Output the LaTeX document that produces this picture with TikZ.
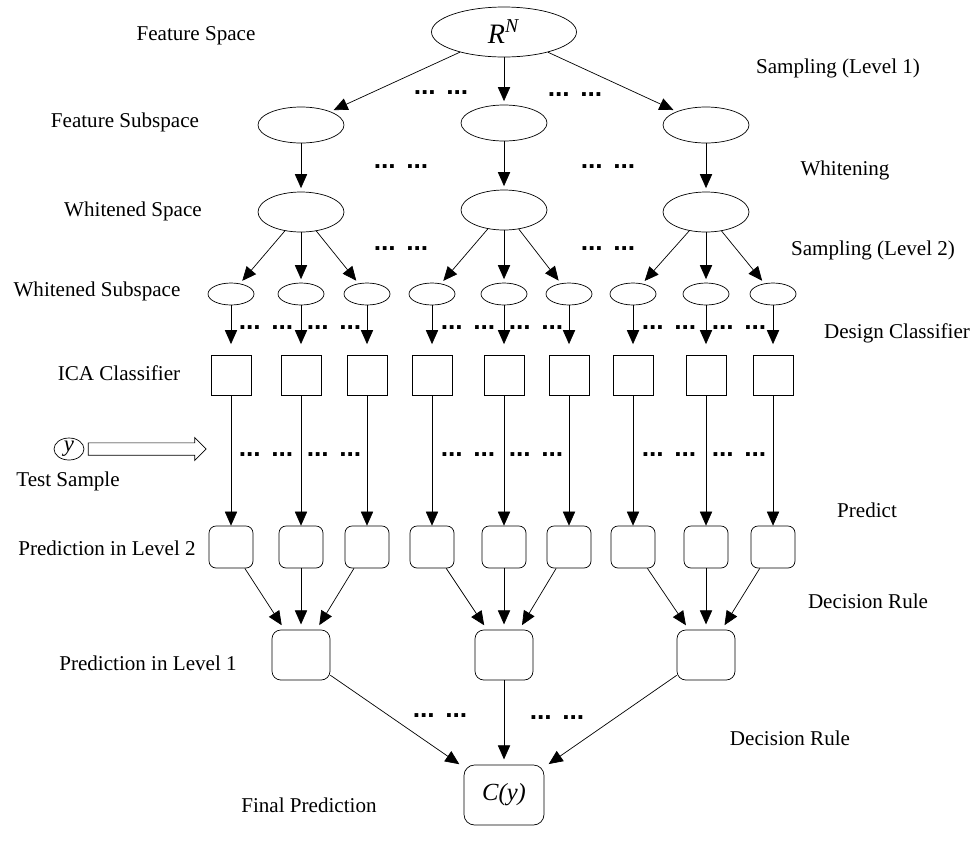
\documentclass[tikz,border=0pt]{standalone}
\usepackage{fontspec}
\setmainfont{Liberation Serif}
\newfontfamily\dotfont{Liberation Sans}
\usetikzlibrary{arrows.meta,shapes.geometric,shapes.arrows}

\begin{document}
\begin{tikzpicture}[x=0.02cm,y=-0.02cm,
		>={Triangle[length=8pt,width=7pt]},
		every node/.style={font=\fontsize{12}{14}\selectfont},
		ell/.style={draw,shape=ellipse,inner sep=0pt},
		sq/.style={draw,shape=rectangle,minimum width=0.8cm,minimum height=0.8cm},
		pred/.style={draw,shape=rectangle,rounded corners=4pt,minimum width=0.88cm,minimum height=0.84cm},
		dots/.style={font=\fontsize{15}{15}\selectfont\dotfont\bfseries,anchor=base,inner sep=0pt}]
		
		\useasboundingbox (0,0) rectangle (972,842);
		
		% spaces
		\node[ell,minimum width=2.9cm,minimum height=1cm,font=\fontsize{16}{16}\selectfont] (rn) at (504,32) {\textit{R}\textsuperscript{\textit{N}}};
		\node[ell,minimum width=1.72cm,minimum height=0.72cm] (fs1) at (301,125) {};
		\node[ell,minimum width=1.72cm,minimum height=0.72cm] (fs2) at (504,123) {};
		\node[ell,minimum width=1.72cm,minimum height=0.72cm] (fs3) at (706,125) {};
		\node[ell,minimum width=1.72cm,minimum height=0.8cm] (ws1) at (301,212) {};
		\node[ell,minimum width=1.72cm,minimum height=0.8cm] (ws2) at (504,210) {};
		\node[ell,minimum width=1.72cm,minimum height=0.8cm] (ws3) at (706,212) {};
		
		% columns: subspace, classifier, prediction
		\foreach \x [count=\i] in {231,301,367,432,504,569,633,706,773} {
			\node[ell,minimum width=0.92cm,minimum height=0.44cm] (sub\i) at (\x,294) {};
			\node[sq] (ica\i) at (\x,375) {};
			\node[pred] (pa\i) at (\x,547) {};
			\draw[->,shorten >=6pt] (sub\i) -- (ica\i);
			\draw[->] (ica\i) -- (pa\i);
		}
		
		\node[draw,shape=rectangle,rounded corners=5pt,minimum width=1.16cm,minimum height=1cm] (pb1) at (301,655) {};
		\node[draw,shape=rectangle,rounded corners=5pt,minimum width=1.16cm,minimum height=1cm] (pb2) at (504,655) {};
		\node[draw,shape=rectangle,rounded corners=5pt,minimum width=1.16cm,minimum height=1cm] (pb3) at (706,655) {};
		\node[draw,shape=rectangle,rounded corners=6pt,minimum width=1.6cm,minimum height=1.2cm,font=\fontsize{14}{14}\selectfont] (fin) at (504,795) {\textit{C(y)}};
		
		% arrows
		\draw[->,shorten >=2pt] (rn) -- (fs1);
		\draw[->,shorten >=2pt] (rn) -- (fs2);
		\draw[->,shorten >=2pt] (rn) -- (fs3);
		\foreach \j in {1,2,3} {
			\draw[->,shorten >=2pt] (fs\j) -- (ws\j);
		}
		\draw[->,shorten >=2pt] (ws1) -- (sub1);
		\draw[->,shorten >=2pt] (ws1) -- (sub2);
		\draw[->,shorten >=2pt] (ws1) -- (sub3);
		\draw[->,shorten >=2pt] (ws2) -- (sub4);
		\draw[->,shorten >=2pt] (ws2) -- (sub5);
		\draw[->,shorten >=2pt] (ws2) -- (sub6);
		\draw[->,shorten >=2pt] (ws3) -- (sub7);
		\draw[->,shorten >=2pt] (ws3) -- (sub8);
		\draw[->,shorten >=2pt] (ws3) -- (sub9);
		\draw[->,shorten >=3pt] (pa1) -- (pb1);
		\draw[->,shorten >=3pt] (pa2) -- (pb1);
		\draw[->,shorten >=3pt] (pa3) -- (pb1);
		\draw[->,shorten >=3pt] (pa4) -- (pb2);
		\draw[->,shorten >=3pt] (pa5) -- (pb2);
		\draw[->,shorten >=3pt] (pa6) -- (pb2);
		\draw[->,shorten >=3pt] (pa7) -- (pb3);
		\draw[->,shorten >=3pt] (pa8) -- (pb3);
		\draw[->,shorten >=3pt] (pa9) -- (pb3);
		\draw[->,shorten >=3pt] (pb1) -- (fin);
		\draw[->,shorten >=3pt] (pb2) -- (fin);
		\draw[->,shorten >=3pt] (pb3) -- (fin);
		
		% test sample
		\node[ell,minimum width=0.6cm,minimum height=0.44cm,font=\fontsize{13}{13}\selectfont] (ysam) at (69,449) {\textit{y}};
		\node (ts) at (68,481) {Test Sample};
		\node[draw,single arrow,inner sep=3.3pt,single arrow head extend=3pt,minimum height=2.36cm,anchor=west] (tsarr) at ([xshift=2pt]ysam.east) {};
		
		% dots
		\node[dots] (da1) at (441,94) {...\hspace{6pt}...};
		\node[dots] (da2) at (575,96) {...\hspace{6pt}...};
		\node[dots] (db1) at (401,168) {...\hspace{6pt}...};
		\node[dots] (db2) at (608,168) {...\hspace{6pt}...};
		\node[dots] (dc1) at (401,250) {...\hspace{6pt}...};
		\node[dots] (dc2) at (608,250) {...\hspace{6pt}...};
		\foreach \x in {266,334,468,536,669,739} {
			\node[dots] at (\x,329) {...\hspace{6pt}...};
			\node[dots] at (\x,456) {...\hspace{6pt}...};
		}
		\node[dots] (dd1) at (440,717) {...\hspace{6pt}...};
		\node[dots] (dd2) at (557,719) {...\hspace{6pt}...};
		
		% labels
		\node (lfs) at (196,36) {Feature Space};
		\node (lfsub) at (125,122) {Feature Subspace};
		\node (lws) at (133,211) {Whitened Space};
		\node (lwsub) at (97,291) {Whitened Subspace};
		\node (lica) at (119,373) {ICA Classifier};
		\node (lpa) at (107,548) {Prediction in Level 2};
		\node (lpb) at (148,663) {Prediction in Level 1};
		\node (lfin) at (309,805) {Final Prediction};
		\node (rsa) at (838,68) {Sampling (Level 1)};
		\node (rwh) at (845,170) {Whitening};
		\node (rsb) at (873,250) {Sampling (Level 2)};
		\node (rdc) at (897,333) {Design Classifier};
		\node (rpr) at (867,510) {Predict};
		\node (rdra) at (868,601) {Decision Rule};
		\node (rdrb) at (790,738) {Decision Rule};
		
\end{tikzpicture}
\end{document}
